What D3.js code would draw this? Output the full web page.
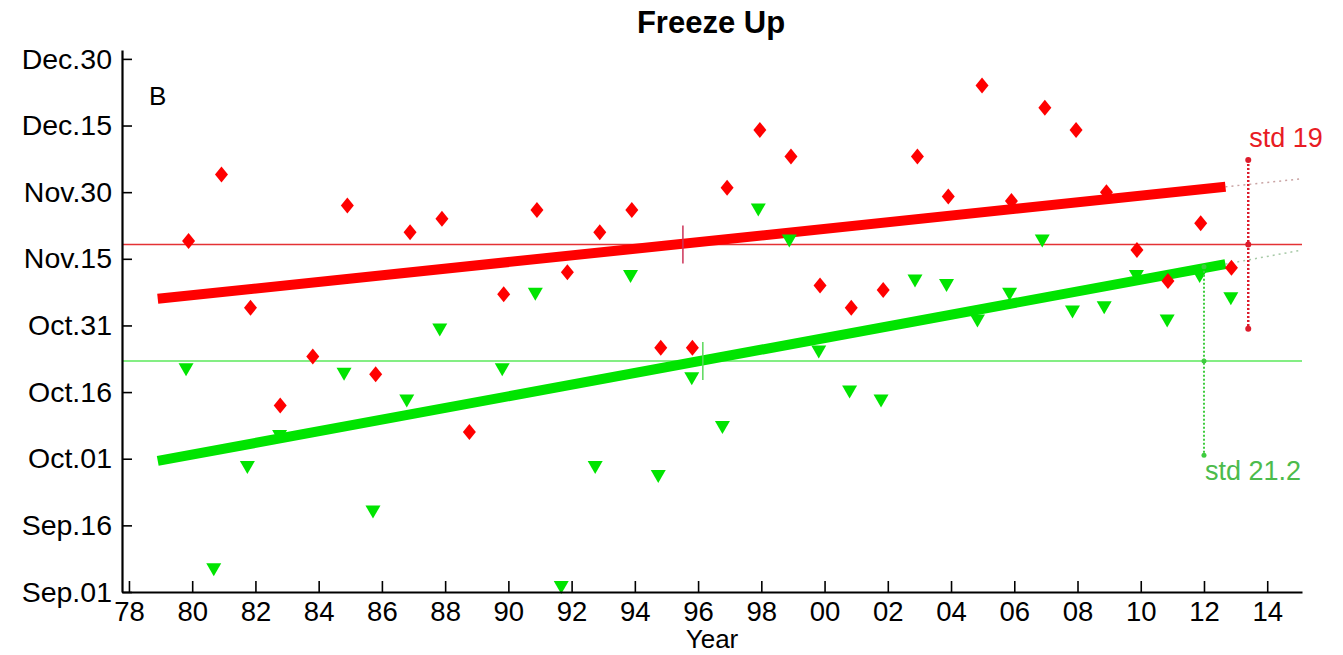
<!DOCTYPE html>
<html>
<head>
<meta charset="utf-8">
<script src="https://cdn.jsdelivr.net/npm/d3@7"></script>
<style>
body { margin: 0; background: #fff; }
text { font-family: "Liberation Sans", Arial, sans-serif; }
</style>
</head>
<body>
<svg id="chart" width="1343" height="655"></svg>
<script>
// freeze up dates, as days after Sep.01, for 1980..2013
var years = d3.range(1980, 2014)
var redDays = [79, 94, 64, 42, 53, 87, 49, 81, 84, 36, 67, 86, 72, 81, 86, 55, 55,
               91, 104, 98, 69, 64, 68, 98, 89, 114, 88, 109, 104, 90, 77, 70, 83, 73]
var greenDays = [50, 5, 28, 35, null, 49, 18, 43, 59, null, 50, 67, 1, 28, 71, 26, 48,
                 37, 86, 79, 54, 45, 43, 70, 69, 61, 67, 79, 63, 64, 71, 61, 71, 66]

var dayTicks = [0, 15, 30, 45, 60, 75, 90, 105, 120]
var dayLabels = ['Sep.01', 'Sep.16', 'Oct.01', 'Oct.16', 'Oct.31', 'Nov.15', 'Nov.30', 'Dec.15', 'Dec.30']
var yearTicks = d3.range(1978, 2015, 2)

// trend lines (start / end), centroid marks and std bars
var trendYears = [1978.91, 2012.68]
var redTrend = [66.0, 91.2]
var greenTrend = [29.5, 73.8]
var centroidYears = [1995.52, 1996.15]
var stdYears = [2013.4, 2012.0]
var stdValues = [19, 21.2]

var svg = d3.select('#chart')
var x = d3.scaleLinear().domain([1977.78, 2015.1]).range([122, 1302])
var y = d3.scaleLinear().domain([0, 122]).range([592, 50])

// points sit at their actual date: year minus the days left until Dec.31
function dateYear(yr, d) { return yr - (121 - d) / 365 }

var series = [
    { days: redDays, trend: redTrend, color: '#ff0000', mean: '#e43234', mark: '#cc3358',
      ext: '#c9a3a3', stdColor: '#dd1c2c', text: '#e81c24', shape: 'M0,-8L6.5,0L0,8L-6.5,0Z' },
    { days: greenDays, trend: greenTrend, color: '#00e400', mean: '#84ee84', mark: '#5ad85a',
      ext: '#a6c9a6', stdColor: '#3fcc3f', text: '#4cbb4c', shape: 'M-7.5,-6.5L7.5,-6.5L0,6.5Z' }
]
series.forEach(function(s) {
    s.pts = years.map(function(yr, i) { return { yr: yr, d: s.days[i] } })
                 .filter(function(p) { return p.d != null })
    s.avg = d3.mean(s.pts, function(p) { return p.d })
})

var x0 = x.domain()[0], x1 = x.domain()[1]

// mean lines
series.forEach(function(s) {
    svg.append('line')
        .attr('x1', x(x0) + 1).attr('x2', x(x1))
        .attr('y1', y(s.avg)).attr('y2', y(s.avg))
        .attr('stroke', s.mean).attr('stroke-width', s === series[0] ? 1.5 : 2)
})

// trend lines + dotted extension to the end of the axis
series.forEach(function(s) {
    var slope = (s.trend[1] - s.trend[0]) / (trendYears[1] - trendYears[0])
    svg.append('line')
        .attr('x1', x(trendYears[1])).attr('y1', y(s.trend[1]))
        .attr('x2', x(x1)).attr('y2', y(s.trend[1] + slope * (x1 - trendYears[1])))
        .attr('stroke', s.ext).attr('stroke-width', 1.5).attr('stroke-dasharray', '2,4')
    svg.append('line')
        .attr('x1', x(trendYears[0])).attr('y1', y(s.trend[0]))
        .attr('x2', x(trendYears[1])).attr('y2', y(s.trend[1]))
        .attr('stroke', s.color).attr('stroke-width', 10)
})

// centroid marks
series.forEach(function(s, i) {
    svg.append('line')
        .attr('x1', x(centroidYears[i])).attr('x2', x(centroidYears[i]))
        .attr('y1', y(s.avg) - 19).attr('y2', y(s.avg) + 19)
        .attr('stroke', s.mark).attr('stroke-width', 1.5)
})

// points
series.forEach(function(s) {
    svg.append('g').selectAll('path')
        .data(s.pts)
        .enter().append('path')
        .attr('transform', function(p) { return 'translate(' + x(dateYear(p.yr, p.d)) + ',' + y(p.d) + ')' })
        .attr('d', s.shape)
        .attr('fill', s.color)
})

// std bars
series.forEach(function(s, i) {
    var bx = x(stdYears[i])
    var lo = s.avg - stdValues[i], hi = s.avg + stdValues[i]
    svg.append('line')
        .attr('x1', bx).attr('x2', bx).attr('y1', y(hi)).attr('y2', y(lo))
        .attr('stroke', s.stdColor).attr('stroke-width', i == 0 ? 2.5 : 2)
        .attr('stroke-dasharray', '2,2')
    svg.append('g').selectAll('circle')
        .data([lo, s.avg, hi])
        .enter().append('circle')
        .attr('cx', bx).attr('cy', function(d) { return y(d) })
        .attr('r', i == 0 ? 3 : 2.5)
        .attr('fill', s.stdColor)
    svg.append('text')
        .attr('x', bx + 1)
        .attr('y', i == 0 ? y(hi) - 13 : y(lo) + 25)
        .attr('font-size', 27)
        .attr('fill', s.text)
        .text('std ' + stdValues[i])
})

// axes
var xAxis = svg.append('g')
    .attr('transform', 'translate(0,' + y(0) + ')')
    .call(d3.axisBottom(x).tickValues(yearTicks)
        .tickFormat(function(d) { return d3.format('02d')(d % 100) })
        .tickSize(-11).tickSizeOuter(0).tickPadding(9))
var yAxis = svg.append('g')
    .attr('transform', 'translate(' + x(x0) + ',0)')
    .call(d3.axisLeft(y).tickValues(dayTicks)
        .tickFormat(function(d, i) { return dayLabels[i] })
        .tickSize(-10).tickSizeOuter(0).tickPadding(10))

;[xAxis, yAxis].forEach(function(g) {
    g.attr('font-family', null).attr('font-size', g === yAxis ? 28.5 : 27.5)
    g.select('.domain').attr('stroke', '#000').attr('stroke-width', 2.2)
    g.selectAll('.tick line').attr('stroke', '#000').attr('stroke-width', 1.6)
    g.selectAll('.tick text').attr('fill', '#000')
})

svg.append('text')
    .attr('x', 711).attr('y', 33)
    .attr('text-anchor', 'middle')
    .attr('font-size', 31).attr('font-weight', 'bold')
    .text('Freeze Up')

svg.append('text')
    .attr('x', 712).attr('y', 648)
    .attr('text-anchor', 'middle')
    .attr('font-size', 26)
    .text('Year')

svg.append('text')
    .attr('x', 149).attr('y', 105)
    .attr('font-size', 26)
    .text('B')
</script>
</body>
</html>
